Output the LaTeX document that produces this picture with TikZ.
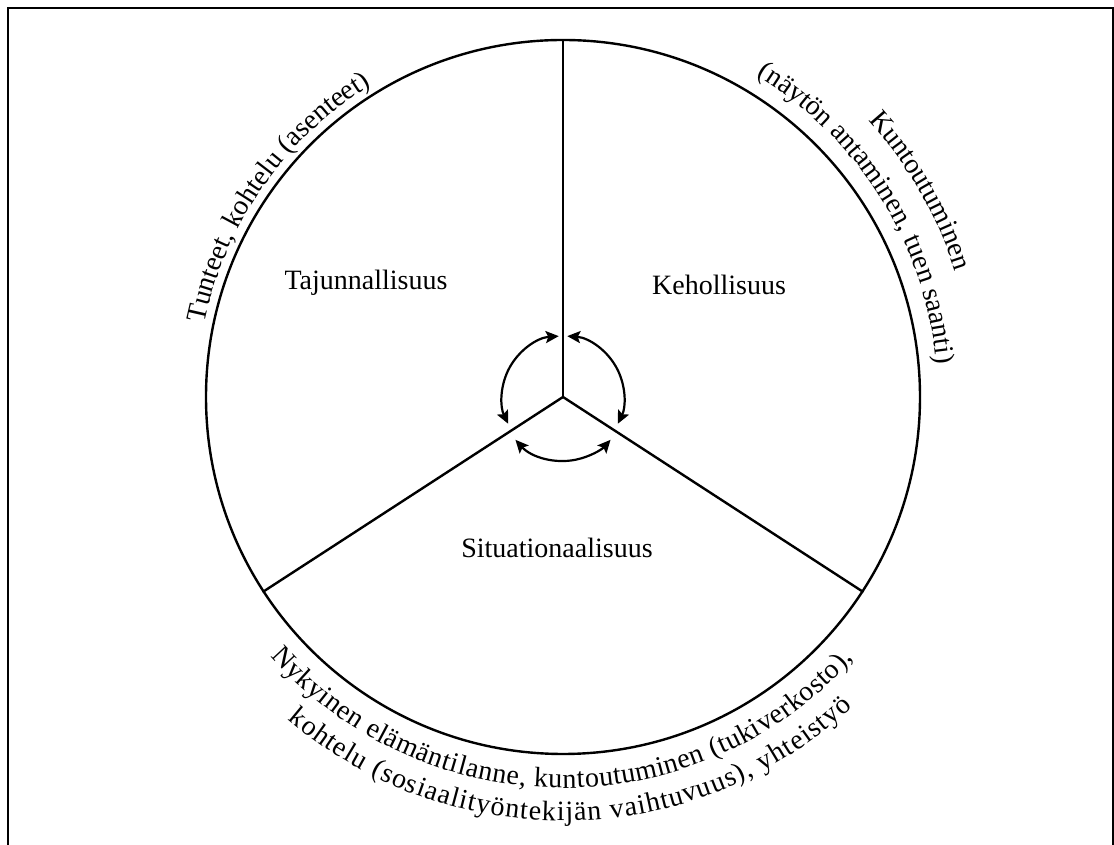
\documentclass[tikz,border=0pt]{standalone}
\usepackage{fontspec}
\setmainfont{Liberation Serif}
\usetikzlibrary{arrows.meta,decorations.text}
\newcommand\lblfont{\fontsize{28}{33}\selectfont}
\begin{document}
\begin{tikzpicture}[x=1pt,y=1pt,
  frame/.style={line width=2.6pt},
  ring/.style={circle,draw,line width=2.4pt,minimum size=714pt,inner sep=0pt},
  spoke/.style={line width=2.4pt},
  cyc/.style={line width=2.2pt,{Stealth[length=13pt,width=12pt,inset=2.5pt]}-{Stealth[length=13pt,width=12pt,inset=2.5pt]}},
  lbl/.style={font=\lblfont}
]
\useasboundingbox (0,0) rectangle (1114,845);
% frame (open at the bottom edge of the picture)
\coordinate (f1) at (8,-5);
\coordinate (f2) at (8,837);
\coordinate (f3) at (1113,837);
\coordinate (f4) at (1113,-5);
\draw[frame] (f1) -- (f2) -- (f3) -- (f4);

\coordinate (C) at (563,448);
\node[ring] (ring) at (C) {};
\draw[spoke] (C) -- (ring.90);
\draw[spoke] (C) -- (ring.213);
\draw[spoke] (C) -- (ring.-33);

\node[lbl] (taj) at (366,562) {Tajunnallisuus};
\node[lbl] (keh) at (719,560) {Kehollisuus};
\node[lbl] (sit) at (557,297) {Situationaalisuus};

% cycle arrows
\draw[cyc] ([shift={(94:61)}]C) arc[start angle=94,end angle=206,radius=61];
\draw[cyc] ([shift={(86:61)}]C) arc[start angle=86,end angle=-26,radius=61];
\draw[cyc] ([shift={(222:64)}]C) arc[start angle=222,end angle=318,radius=64];

% curved texts
\path[decorate,decoration={text along path,text align=center,
  text={|\lblfont|Tunteet, kohtelu (asenteet)}}]
  ([shift={(175:366)}]C) arc[start angle=175,end angle=115,radius=366];
\path[decorate,decoration={text along path,text align=center,
  text={|\lblfont|Kuntoutuminen}}]
  ([shift={(65:412)}]C) arc[start angle=65,end angle=-5,radius=412];
\path[decorate,decoration={text along path,text align=center,
  text={|\lblfont|(näytön antaminen,  tuen saanti)}}]
  ([shift={(76:375)}]C) arc[start angle=76,end angle=-12,radius=375];
\path[decorate,decoration={text along path,text align={fit to path},
  text={|\lblfont|Nykyinen elämäntilanne, kuntoutuminen (tukiverkosto),}}]
  ([shift={(221.5:391)}]C) arc[start angle=221.5,end angle=318,radius=391];
\path[decorate,decoration={text along path,text align={fit to path},
  text={|\lblfont|kohtelu (sosiaalityöntekijän vaihtuvuus), yhteistyö}}]
  ([shift={(229.5:424)}]C) arc[start angle=229.5,end angle=313,radius=424];
\end{tikzpicture}
\end{document}
